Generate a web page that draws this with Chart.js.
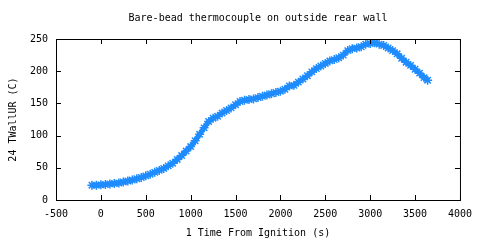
<!DOCTYPE html>
<html>
<head>
<meta charset="utf-8">
<script src="https://cdn.jsdelivr.net/npm/chart.js@4"></script>
<style>
  html, body { margin: 0; padding: 0; background: #fff; }
  #wrap { width: 480px; height: 240px; }
</style>
</head>
<body>
<div id="wrap"><canvas id="chart" width="480" height="240"></canvas></div>
<script>
// Chart text
const chartTitle = 'Bare-bead thermocouple on outside rear wall';
const xLabel = '1 Time From Ignition (s)';
const yLabel = '24 TWallUR (C)';

// Axis ticks
const xTicks = [-500, 0, 500, 1000, 1500, 2000, 2500, 3000, 3500, 4000];
const yTicks = [0, 50, 100, 150, 200, 250];

// Series: time (s) and temperature (C)
const timeSec = [-100, -50, 0, 50, 100, 150, 200, 250, 300, 350, 400, 450, 500, 550, 600, 650, 700, 750, 800, 850,
  900, 950, 1000, 1050, 1100, 1150, 1200, 1250, 1300, 1350, 1400, 1450, 1500, 1550, 1600, 1650, 1700, 1750, 1800, 1850,
  1900, 1950, 2000, 2050, 2100, 2150, 2200, 2250, 2300, 2350, 2400, 2450, 2500, 2550, 2600, 2650, 2700, 2750, 2800, 2850,
  2900, 2950, 3000, 3050, 3100, 3150, 3200, 3250, 3300, 3350, 3400, 3450, 3500, 3550, 3600, 3640];
const tempC = [23, 23, 23.5, 24, 25, 25.5, 26.5, 28, 29.5, 31, 33, 35, 37.5, 40, 43, 46, 49, 53, 57, 63,
  69, 76, 83, 92, 102, 112, 122, 127, 130, 135, 139, 143, 148, 153, 155, 156, 157, 159, 161, 163,
  165, 167, 169, 172, 177, 178, 183, 188, 193, 199, 204, 208, 212, 216, 218, 221, 225, 232, 235, 236,
  238, 242, 243, 244, 242, 240, 236, 232, 227, 220, 214, 209, 203, 197, 190, 186];

const seriesColor = '#1e8cff';
const monoFont = { family: 'DejaVu Sans Mono', size: 10 };

// Frame, inward ticks on all four sides, and the title
const framePlugin = {
  id: 'frame',
  afterDraw(chart) {
    const { ctx, chartArea: a, scales } = chart;
    ctx.save();
    ctx.strokeStyle = '#000';
    ctx.lineWidth = 1;
    ctx.strokeRect(a.left + 0.5, a.top + 0.5, a.right - a.left, a.bottom - a.top);
    ctx.beginPath();
    xTicks.forEach(v => {
      const x = Math.round(scales.x.getPixelForValue(v)) + 0.5;
      ctx.moveTo(x, a.bottom); ctx.lineTo(x, a.bottom - 5);
      ctx.moveTo(x, a.top); ctx.lineTo(x, a.top + 5);
    });
    yTicks.forEach(v => {
      const y = Math.round(scales.y.getPixelForValue(v)) + 0.5;
      ctx.moveTo(a.left, y); ctx.lineTo(a.left + 5, y);
      ctx.moveTo(a.right, y); ctx.lineTo(a.right - 5, y);
    });
    ctx.stroke();
    ctx.fillStyle = '#000';
    ctx.font = '10px "DejaVu Sans Mono"';
    ctx.textAlign = 'center';
    ctx.textBaseline = 'middle';
    ctx.fillText(chartTitle, (a.left + a.right) / 2, 18);
    ctx.restore();
  }
};

new Chart(document.getElementById('chart'), {
  type: 'line',
  data: {
    datasets: [{
      data: timeSec.map((t, i) => ({ x: t, y: tempC[i] })),
      borderColor: seriesColor,
      backgroundColor: seriesColor,
      borderWidth: 5,
      pointStyle: 'star',
      pointRadius: 4.5,
      pointBorderWidth: 1.5,
      pointBorderColor: seriesColor,
      tension: 0,
      fill: false
    }]
  },
  options: {
    responsive: false,
    animation: false,
    devicePixelRatio: 1,
    layout: { padding: { top: 39, right: 19, left: 0, bottom: 0 } },
    plugins: { legend: { display: false }, tooltip: { enabled: false }, title: { display: false } },
    scales: {
      x: {
        type: 'linear',
        min: -500, max: 4000,
        afterBuildTicks: s => { s.ticks = xTicks.map(v => ({ value: v })); },
        afterFit: s => { s.height = 40; },
        grid: { display: false, drawTicks: false },
        border: { display: false },
        ticks: { color: '#000', font: monoFont, padding: 8, maxRotation: 0, callback: v => String(v) },
        title: { display: true, text: xLabel, color: '#000', font: monoFont, padding: { top: 0, bottom: 1 } }
      },
      y: {
        min: 0, max: 250,
        afterBuildTicks: s => { s.ticks = yTicks.map(v => ({ value: v })); },
        afterFit: s => { s.width = 56; },
        grid: { display: false, drawTicks: false },
        border: { display: false },
        ticks: { color: '#000', font: monoFont, padding: 8, callback: v => String(v) },
        title: { display: true, text: yLabel, color: '#000', font: monoFont, padding: { top: 7, bottom: 0 } }
      }
    }
  },
  plugins: [framePlugin]
});
</script>
</body>
</html>
